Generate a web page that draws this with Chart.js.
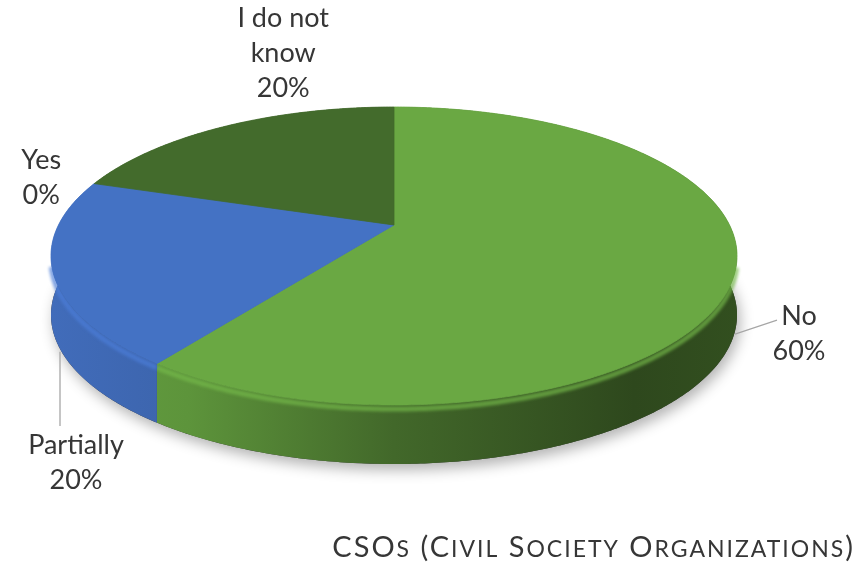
<!DOCTYPE html>
<html>
<head>
<meta charset="utf-8">
<script src="https://cdn.jsdelivr.net/npm/chart.js"></script>
<style>
    html, body { margin: 0; padding: 0; background: #fff; }
    canvas { display: block; }
</style>
</head>
<body>
<canvas id="CsoChart" width="866" height="564"></canvas>
<script>
// answers, in Excel's clockwise order from 12 o'clock
const categories = ['No', 'Partially', 'Yes', ['I do not', 'know']];
const percents = [60, 20, 0, 20];
const sliceColors = ['#6aa843', '#4472c4', '#a5a5a5', '#436b2c'];
const chartTitle = 'CSOs (Civil Society Organizations)';

// label block centre, relative to the slice's mid point on the rim
const labelShift = [[64, 62], [23, 191], [-53, -6], [58, -73]];
// leader line end, relative to the label centre (null = no leader, 'v' = drop straight down from the pie)
const leaderEnd = [[-22, -14], [-16, -37, 'v'], null, null];

function shade(hex, f) {
    const n = parseInt(hex.slice(1), 16);
    const c = [(n >> 16) & 255, (n >> 8) & 255, n & 255].map(v => Math.max(0, Math.min(255, Math.round(v * f))));
    return `rgb(${c[0]}, ${c[1]}, ${c[2]})`;
}

// geometry of the tilted disc, taken from the chart area
function discGeometry(chart) {
    const o = chart.options.plugins.pie3d;
    const a = chart.chartArea;
    const p = o.perspective;
    const half = (a.right - a.left) / 2;
    const R = half * Math.sqrt(1 - p * p);
    const faceH = a.bottom - o.depth - a.top;
    const Ry = faceH * (1 - p * p) / 2;
    const cx = (a.left + a.right) / 2;
    const cy = a.top + Ry / (1 + p);
    const proj = (t, dz) => {
        const s = 1 / (1 - p * Math.sin(t));
        return [cx + R * Math.cos(t) * s, cy + Ry * Math.sin(t) * s + (dz || 0)];
    };
    return { a, p, R, Ry, cx, cy, depth: o.depth, proj };
}

function rim(g, t0, t1, dz) {
    const pts = [];
    const n = Math.max(2, Math.ceil(Math.abs(t1 - t0) / 0.01));
    for (let i = 0; i <= n; i++) pts.push(g.proj(t0 + (t1 - t0) * i / n, dz));
    return pts;
}

function tracePath(ctx, pts, dy) {
    pts.forEach((pt, k) => k ? ctx.lineTo(pt[0], pt[1] + (dy || 0)) : ctx.moveTo(pt[0], pt[1] + (dy || 0)));
}

const pie3d = {
    id: 'pie3d',
    beforeDatasetsDraw(chart) {
        const ctx = chart.ctx;
        const g = discGeometry(chart);
        const arcs = chart.getDatasetMeta(0).data;
        const colors = chart.data.datasets[0].backgroundColor;

        // soft shadow under the disc
        ctx.save();
        ctx.shadowColor = 'rgba(0, 0, 0, 0.3)';
        ctx.shadowBlur = 14;
        ctx.shadowOffsetX = 3;
        ctx.shadowOffsetY = 6;
        ctx.beginPath();
        tracePath(ctx, rim(g, 0, Math.PI * 2, g.depth));
        ctx.closePath();
        ctx.fillStyle = '#3a3a3a';
        ctx.fill();
        ctx.restore();

        // side walls
        arcs.forEach((arc, i) => {
            if (arc.endAngle - arc.startAngle <= 0) return;
            const top = rim(g, arc.startAngle, arc.endAngle, 0);
            const bottom = rim(g, arc.endAngle, arc.startAngle, g.depth);
            const grad = ctx.createLinearGradient(g.a.left, 0, g.a.right, 0);
            grad.addColorStop(0, shade(colors[i], 0.95));
            grad.addColorStop(0.2, shade(colors[i], 0.88));
            grad.addColorStop(0.5, shade(colors[i], 0.62));
            grad.addColorStop(0.85, shade(colors[i], 0.43));
            grad.addColorStop(1, shade(colors[i], 0.47));
            ctx.beginPath();
            tracePath(ctx, top.concat(bottom));
            ctx.closePath();
            ctx.fillStyle = grad;
            ctx.fill();

            // rounded edge highlight, front part only
            const front = [];
            const n = Math.ceil((arc.endAngle - arc.startAngle) / 0.01);
            for (let k = 0; k <= n; k++) {
                const t = arc.startAngle + (arc.endAngle - arc.startAngle) * k / n;
                if (Math.sin(t) > 0.25) front.push(g.proj(t, 0));
            }
            if (front.length > 1) {
                ctx.save();
                ctx.filter = 'blur(1.5px)';
                ctx.beginPath();
                tracePath(ctx, front, 4);
                ctx.lineWidth = 5;
                ctx.strokeStyle = shade(colors[i], 1.1);
                ctx.globalAlpha = 0.7;
                ctx.stroke();
                ctx.restore();
            }
        });

        // top faces
        arcs.forEach((arc, i) => {
            if (arc.endAngle - arc.startAngle <= 0) return;
            ctx.beginPath();
            ctx.moveTo(g.cx, g.cy);
            tracePath(ctx, rim(g, arc.startAngle, arc.endAngle, 0));
            ctx.lineTo(g.cx, g.cy);
            ctx.closePath();
            ctx.fillStyle = colors[i];
            ctx.fill();
            ctx.strokeStyle = colors[i];
            ctx.lineWidth = 0.8;
            ctx.stroke();
        });
        return false;
    },
    afterDraw(chart) {
        const ctx = chart.ctx;
        const g = discGeometry(chart);
        const arcs = chart.getDatasetMeta(0).data;
        const ds = chart.data.datasets[0];
        const lineH = 35;

        ctx.save();
        ctx.font = '27px Lato';
        ctx.fillStyle = '#363636';
        ctx.textAlign = 'center';
        ctx.textBaseline = 'middle';
        arcs.forEach((arc, i) => {
            const mid = (arc.startAngle + arc.endAngle) / 2;
            const m = g.proj(mid, 0);
            const lx = m[0] + labelShift[i][0];
            const ly = m[1] + labelShift[i][1];
            const name = chart.data.labels[i];
            const lines = (Array.isArray(name) ? name : [name]).concat([ds.data[i] + '%']);
            const y0 = ly - (lines.length - 1) * lineH / 2;
            lines.forEach((t, k) => ctx.fillText(t, lx, y0 + k * lineH));

            const le = leaderEnd[i];
            if (le) {
                const ex = lx + le[0], ey = ly + le[1];
                let s = g.proj(mid, g.depth);
                if (le[2] === 'v') {
                    // point of the bottom rim right above the label
                    let best = Infinity;
                    for (let t = arc.startAngle; t <= arc.endAngle; t += 0.002) {
                        if (Math.sin(t) <= 0) continue;
                        const q = g.proj(t, g.depth);
                        if (Math.abs(q[0] - ex) < best) { best = Math.abs(q[0] - ex); s = [ex, q[1]]; }
                    }
                }
                ctx.beginPath();
                ctx.moveTo(s[0], s[1] + 3);
                ctx.lineTo(ex, ey);
                ctx.strokeStyle = '#a6a6a6';
                ctx.lineWidth = 1.3;
                ctx.stroke();
            }
        });

        // title in small caps, right aligned under the pie
        const big = 29, small = 23;
        const runs = [];
        for (const ch of chartTitle) {
            const lower = ch !== ch.toUpperCase();
            const size = lower ? small : big;
            const last = runs[runs.length - 1];
            if (last && last.size === size) last.text += ch.toUpperCase();
            else runs.push({ text: ch.toUpperCase(), size });
        }
        ctx.letterSpacing = '2px';
        let width = 0;
        runs.forEach(r => { ctx.font = r.size + 'px Lato'; r.w = ctx.measureText(r.text).width; width += r.w; });
        let x = 855 - width;
        ctx.textAlign = 'left';
        ctx.textBaseline = 'alphabetic';
        runs.forEach(r => {
            ctx.font = r.size + 'px Lato';
            ctx.fillText(r.text, x, 557);
            x += r.w;
        });
        ctx.restore();
    }
};

new Chart(document.getElementById('CsoChart'), {
    type: 'pie',
    data: {
        labels: categories,
        datasets: [{
            data: percents,
            backgroundColor: sliceColors,
            borderWidth: 0
        }]
    },
    options: {
        responsive: false,
        animation: false,
        devicePixelRatio: 1,
        layout: {
            padding: { left: 51, right: 129, top: 107, bottom: 100 }
        },
        plugins: {
            legend: { display: false },
            tooltip: { enabled: false },
            pie3d: { perspective: 0.208, depth: 59 }
        }
    },
    plugins: [pie3d]
});
</script>
</body>
</html>
